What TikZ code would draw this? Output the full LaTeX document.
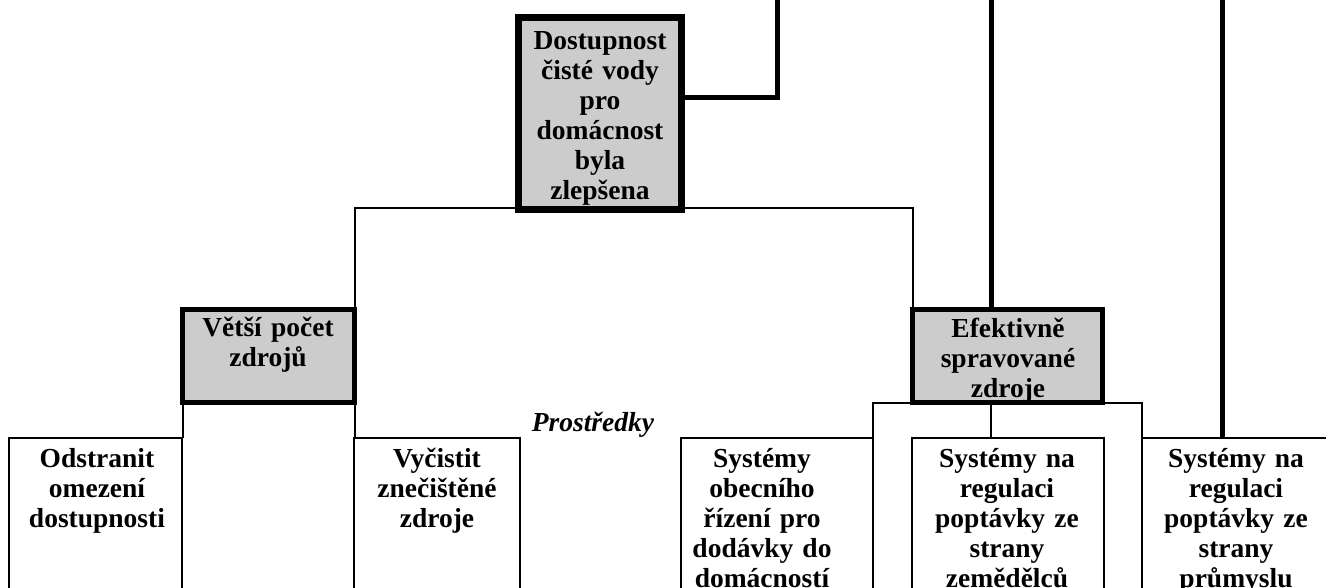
\documentclass[tikz,border=0pt]{standalone}
\usepackage{fontspec}
\setmainfont{Liberation Serif}
\usetikzlibrary{calc}
\begin{document}
\begin{tikzpicture}[x=1pt,y=-1pt,
  every node/.style={inner sep=0pt, outer sep=0pt},
  goalbox/.style={draw, fill=black!20, line width=7pt},
  resultbox/.style={draw, fill=black!20, line width=5pt},
  meansbox/.style={draw, line width=2pt, minimum height=182pt},
  txt/.style={font=\fontsize{27.5}{30}\selectfont\bfseries, text width=190pt, align=center, anchor=north},
  conn/.style={line width=2pt},
  feed/.style={line width=5pt},
]
\useasboundingbox (0,0) rectangle (1326,588);
\clip (0,0) rectangle (1326,588);

% boxes
\node[goalbox, minimum width=163pt, minimum height=192pt] (goal) at (600,113.5) {};
\node[resultbox, minimum width=172pt, minimum height=93pt] (more) at (268.5,356) {};
\node[resultbox, minimum width=190pt, minimum height=93pt] (managed) at (1007.5,356) {};
\node[meansbox, minimum width=173pt] (remove) at (95.5,529) {};
\node[meansbox, minimum width=166pt] (clean) at (437,529) {};
\node[meansbox, minimum width=192pt] (house) at (777,529) {};
\node[meansbox, minimum width=192pt] (farm) at (1008,529) {};
\node[meansbox, minimum width=190pt] (industry) at (1237,529) {};

% incoming links from above
\coordinate (in1) at (777,0);
\coordinate (in2) at (991,0);
\coordinate (in3) at (1222,0);
\draw[feed] (in1) |- ([yshift=15.5pt]goal.east);
\draw[feed] (in2) -- (in2 |- managed.north);
\draw[feed] (in3) -- (in3 |- industry.north);

% tree connectors
\draw[conn] (more.north east) |- ([yshift=1.5pt]goal.south) -| (managed.north west);
\draw[conn] (more.south west) -- (more.south west |- remove.north);
\draw[conn] (more.south east) -- (more.south east |- clean.north);
\draw[conn] (managed.south west) -| (house.north east);
\draw[conn] (managed.south east) -| (industry.north west);
\draw[conn] (in2 |- managed.south) -- (in2 |- farm.north);

% texts
\node[txt] (goal-t) at (600,29) {\strut Dostupnost\\čisté vody\\pro\\domácnost\\byla\\zlepšena};
\node[txt] (more-t) at (268,315) {\strut Větší počet\\zdrojů};
\node[txt] (managed-t) at (1008,317) {\strut Efektivně\\spravované\\zdroje};
\node[txt] (remove-t) at (97,446) {\strut Odstranit\\omezení\\dostupnosti};
\node[txt] (clean-t) at (437,446) {\strut Vyčistit\\znečištěné\\zdroje};
\node[txt] (house-t) at (762,446) {\strut Systémy\\obecního\\řízení pro\\dodávky do\\domácností};
\node[txt] (farm-t) at (1007,446) {\strut Systémy na\\regulaci\\poptávky ze\\strany\\zemědělců};
\node[txt] (industry-t) at (1236,446) {\strut Systémy na\\regulaci\\poptávky ze\\strany\\průmyslu};
\node[font=\fontsize{27.5}{30}\selectfont\bfseries\itshape, anchor=base] (means-t) at (593,431) {Prostředky};
\end{tikzpicture}
\end{document}
